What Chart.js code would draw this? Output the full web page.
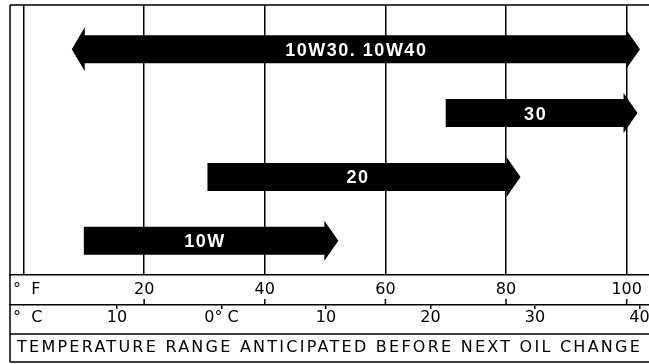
<!DOCTYPE html>
<html>
<head>
<meta charset="utf-8">
<script src="https://cdn.jsdelivr.net/npm/chart.js@4.4.1/dist/chart.umd.min.js"></script>
<style>
  html, body { margin: 0; padding: 0; background: #fff; }
  #wrap { width: 649px; height: 364px; }
</style>
</head>
<body>
<div id="wrap"><canvas id="c" width="649" height="364"></canvas></div>
<script>
// ---- data ----
const categories = ["10W30. 10W40", "30", "20", "10W"];
const rangeStartF = [8, 70, 30.5, 10];
const rangeEndF = [102.2, 101.8, 82.4, 52.2];
const arrowLeft = [true, false, false, false];
const arrowRight = [true, true, true, true];
const fTicks = [0, 20, 40, 60, 80, 100];
const fTickLabels = ["", "20", "40", "60", "80", "100"];
const cTicks = [-10, 0, 10, 20, 30, 40];
const cTickLabels = ["10", "0° C", "10", "20", "30", "40"];
const unitF = "°  F";
const unitC = "°  C";
const axisTitle = "TEMPERATURE RANGE ANTICIPATED BEFORE NEXT OIL CHANGE";

// ---- styling constants ----
const INK = "#000";
const LW = 1.5;
const AXIS_FONT = { family: "'DejaVu Sans'", size: 16 };

const arrowPlugin = {
  id: "arrowBars",
  beforeDraw(chart) {
    const ctx = chart.ctx;
    ctx.save();
    ctx.fillStyle = "#fff";
    ctx.fillRect(0, 0, chart.width, chart.height);
    ctx.restore();
  },
  afterDatasetsDraw(chart) {
    const ctx = chart.ctx;
    const meta = chart.getDatasetMeta(0);
    ctx.save();
    meta.data.forEach((el, i) => {
      const p = el.getProps(["x", "y", "base", "height"], true);
      const L = Math.min(p.x, p.base), R = Math.max(p.x, p.base);
      const T = p.y - p.height / 2, B = p.y + p.height / 2, y = p.y;
      const HL = 13, FL = 8, HR = 14, FR = 6;
      ctx.fillStyle = INK;
      ctx.beginPath();
      if (arrowLeft[i]) { ctx.moveTo(L, y); ctx.lineTo(L + HL, T - FL); ctx.lineTo(L + HL, T); }
      else { ctx.moveTo(L, T); }
      if (arrowRight[i]) {
        ctx.lineTo(R - HR, T); ctx.lineTo(R - HR, T - FR); ctx.lineTo(R, y);
        ctx.lineTo(R - HR, B + FR); ctx.lineTo(R - HR, B);
      } else { ctx.lineTo(R, T); ctx.lineTo(R, B); }
      if (arrowLeft[i]) { ctx.lineTo(L + HL, B); ctx.lineTo(L + HL, B + FL); }
      else { ctx.lineTo(L, B); }
      ctx.closePath();
      ctx.fill();
      const bodyL = arrowLeft[i] ? L + HL : L;
      const bodyR = arrowRight[i] ? R - HR : R;
      ctx.fillStyle = "#fff";
      ctx.font = "bold 18px 'Liberation Sans'";
      ctx.letterSpacing = "1.5px";
      ctx.textAlign = "center";
      ctx.textBaseline = "alphabetic";
      ctx.fillText(categories[i], (bodyL + bodyR) / 2 + 1, y + 6.5);
    });
    ctx.restore();
  },
  afterDraw(chart) {
    const ctx = chart.ctx;
    const a = chart.chartArea;
    const fS = chart.scales.x, cS = chart.scales.xC;
    const right = chart.width;
    ctx.save();
    ctx.strokeStyle = INK;
    ctx.lineWidth = LW;
    ctx.beginPath();
    ctx.moveTo(a.left, a.top); ctx.lineTo(right, a.top);
    ctx.moveTo(a.left, a.top); ctx.lineTo(a.left, 362);
    ctx.moveTo(a.left, cS.bottom); ctx.lineTo(right, cS.bottom);
    ctx.moveTo(a.left, 362); ctx.lineTo(right, 362);
    fTicks.forEach((v, i) => {
      if (i === 0) return;
      const x = fS.getPixelForValue(v);
      ctx.moveTo(x, fS.bottom - 6); ctx.lineTo(x, fS.bottom);
    });
    ctx.stroke();
    // unit labels
    ctx.fillStyle = INK;
    ctx.font = "16px 'DejaVu Sans'";
    ctx.textAlign = "left";
    ctx.textBaseline = "middle";
    ctx.fillText(unitF, 13, (fS.top + fS.bottom) / 2);
    ctx.fillText(unitC, 13, (cS.top + cS.bottom) / 2 - 2);
    // axis title with letter spacing
    ctx.font = "16px 'DejaVu Sans'";
    ctx.letterSpacing = "0px";
    const w0 = ctx.measureText(axisTitle).width;
    const target = 623;
    const sp = (target - w0) / (axisTitle.length - 1);
    ctx.letterSpacing = sp.toFixed(2) + "px";
    ctx.fillText(axisTitle, 17, (cS.bottom + 362) / 2);
    ctx.restore();
  }
};

const noPad = s => { s.paddingLeft = 0; s.paddingRight = 0; };

new Chart(document.getElementById("c"), {
  type: "bar",
  data: {
    datasets: [{
      data: categories.map((c, i) => ({ x: [rangeStartF[i], rangeEndF[i]], y: i })),
      xAxisID: "x",
      yAxisID: "y",
      backgroundColor: "rgba(0,0,0,0)",
      borderWidth: 0,
      barThickness: 28
    }]
  },
  options: {
    indexAxis: "y",
    responsive: false,
    animation: false,
    devicePixelRatio: 1,
    layout: { padding: { left: 10, top: 5, right: 0, bottom: 30 } },
    plugins: { legend: { display: false }, tooltip: { enabled: false }, title: { display: false } },
    scales: {
      y: { type: "linear", min: -0.691, max: 3.534, reverse: true, offset: false, display: false },
      x: {
        type: "linear", position: "bottom", weight: 0,
        min: -2.24, max: 103.7,
        afterBuildTicks: s => { s.ticks = fTicks.map(v => ({ value: v })); },
        afterFit: s => { s.height = 30; noPad(s); },
        ticks: { callback: (v, i) => fTickLabels[i], font: AXIS_FONT, color: INK, padding: 5, maxRotation: 0, autoSkip: false },
        grid: { color: INK, lineWidth: LW, drawTicks: false },
        border: { display: true, color: INK, width: LW }
      },
      xC: {
        type: "linear", axis: "x", position: "bottom", weight: 1,
        min: -20.24, max: 40.91,
        afterBuildTicks: s => { s.ticks = cTicks.map(v => ({ value: v })); },
        afterFit: s => { s.height = 29; noPad(s); },
        ticks: { callback: (v, i) => cTickLabels[i], font: AXIS_FONT, color: INK, padding: -1, maxRotation: 0, autoSkip: false },
        grid: { color: INK, lineWidth: LW, drawOnChartArea: false, drawTicks: true, tickLength: 4 },
        border: { display: true, color: INK, width: LW }
      }
    }
  },
  plugins: [arrowPlugin]
});
</script>
</body>
</html>
